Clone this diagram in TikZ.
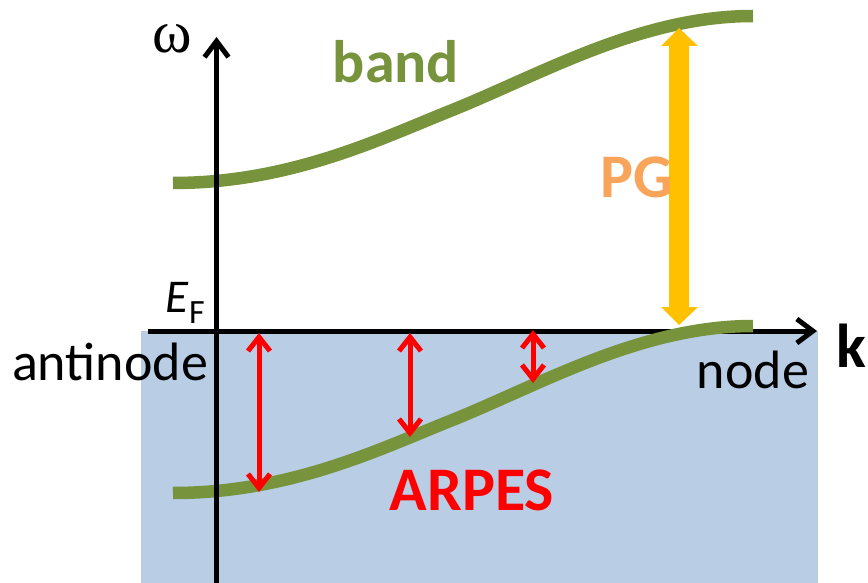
\documentclass[tikz,border=0pt]{standalone}
\usepackage{fontspec}
\setmainfont{Carlito}
\newfontfamily\serifw{Liberation Serif}
\usetikzlibrary{arrows.meta}
\definecolor{bandgreen}{HTML}{77933C}
\definecolor{seablue}{HTML}{B9CDE5}
\definecolor{pgyellow}{HTML}{FFC000}
\definecolor{pgorange}{HTML}{F8A55B}
\definecolor{arpesred}{HTML}{FF0000}
\begin{document}
\begin{tikzpicture}[x=1pt,y=-1pt,
  bandline/.style={draw=bandgreen,line width=12.5pt},
  axisline/.style={draw=black,line width=5pt,-{Straight Barb[length=16pt,width=24pt]}},
  redarrow/.style={draw=arpesred,line width=5pt,line cap=round,
    {Straight Barb[length=14pt,width=22pt]}-{Straight Barb[length=14pt,width=22pt]}},
  lbl/.style={inner sep=0pt,anchor=base},
  regtext/.style={lbl,font=\fontsize{54}{60}\selectfont},
  boldtext/.style={lbl,font=\fontsize{62}{70}\selectfont\bfseries},
]
\useasboundingbox (0,0) rectangle (868,583);
% filled region below E_F
\fill[seablue] (141,331) rectangle (818,583);
% k axis
\coordinate (xstart) at (148,331);
\coordinate (xend) at (817,331);
\draw[axisline] (xstart) -- (xend);
% bands
\draw[bandline] (173,183) .. controls (290,183) and (380,139) .. (450,111)
  .. controls (540,75) and (640,16) .. (753,16);
\draw[bandline] (173,493) .. controls (290,493) and (380,449) .. (450,421)
  .. controls (540,385) and (640,326) .. (753,326);
% omega axis
\coordinate (ystart) at (216.5,583);
\coordinate (yend) at (216.5,37);
\draw[axisline] (ystart) -- (yend);
% pseudogap arrow
\fill[pgyellow] (679,28) -- (698,46) -- (689,46) -- (689,307) -- (698,307)
  -- (679,325) -- (661,307) -- (669,307) -- (669,46) -- (661,46) -- cycle;
% ARPES arrows
\coordinate (a1t) at (259,333);
\coordinate (a1b) at (259,492);
\coordinate (a2t) at (410,333);
\coordinate (a2b) at (410,437);
\coordinate (a3t) at (533,330);
\coordinate (a3b) at (533,383);
\draw[redarrow] (a1t) -- (a1b);
\draw[redarrow] (a2t) -- (a2b);
\draw[redarrow] (a3t) -- (a3b);
% labels
\node[lbl,font=\serifw\fontsize{60}{60}\selectfont] (omega) at (172,53) {ω};
\node[inner sep=0pt,anchor=base west,font=\fontsize{47}{50}\selectfont\itshape] (E) at (165,312) {E};
\node[inner sep=0pt,anchor=base west,font=\fontsize{34}{40}\selectfont] (F) at (189,323) {F};
\node[regtext] (antinode) at (110,380) {antinode};
\node[regtext] (node) at (753,388) {node};
\node[boldtext,text=bandgreen,font=\fontsize{60}{70}\selectfont\bfseries] (band) at (396,83) {band};
\node[boldtext,text=arpesred] (arpes) at (472,510) {ARPES};
\node[boldtext,text=pgorange] (pg) at (637,197) {PG};
\node[boldtext] (k) at (851,367) {k};
\end{tikzpicture}
\end{document}
